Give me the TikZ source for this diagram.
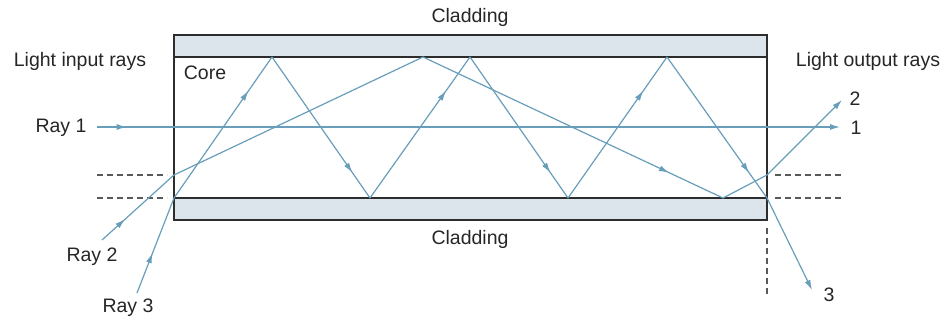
\documentclass[tikz,border=0pt]{standalone}
\usepackage{fontspec}
\setmainfont{Liberation Sans}
\usetikzlibrary{arrows.meta, decorations.markings}
\definecolor{ray_blue}{RGB}{104,158,186}
\definecolor{clad_gray}{RGB}{221,229,236}
\definecolor{wall_gray}{RGB}{45,45,45}

\begin{document}
\begin{tikzpicture}[x=1pt, y=-1pt, >={Latex[length=10pt,width=6pt]},
    every node/.style={font=\fontsize{19.5}{22}\selectfont, text=black!85, inner sep=0pt},
    ray/.style={ray_blue, line width=1.2pt},
    tipat/.style={postaction={decorate}, decoration={markings, mark=at position #1 with {\arrow{Latex[length=10pt,width=6pt]}}}},
    guide/.style={black!65, line width=1.1pt, dash pattern=on 6pt off 4pt}]
  \useasboundingbox (0,0) rectangle (950,322);

  % cladding and core
  \fill[clad_gray] (174,35) rectangle (767,57);
  \fill[clad_gray] (174,198) rectangle (767,220);
  \draw[wall_gray, line width=1.3pt] (174,35) rectangle (767,220);
  \draw[wall_gray, line width=2.2pt] (174,57) -- (767,57);
  \draw[wall_gray, line width=2.2pt] (174,198) -- (767,198);
  \draw[wall_gray, line width=2pt] (174,35) -- (174,220);

  % guide lines
  \draw[guide] (97,175) -- (167,175);
  \draw[guide] (97,198) -- (167,198);
  \draw[guide] (775,175) -- (843,175);
  \draw[guide] (775,198) -- (843,198);
  \draw[guide] (767,228) -- (767,296);

  % labels
  \node (cladtop) at (470,17) {Cladding};
  \node (cladbot) at (470,239) {Cladding};
  \node (inrays) at (80,61) {Light input rays};
  \node (outrays) at (868,61) {Light output rays};
  \node (core) at (205,73) {Core};
  \node (lab1) at (61,128) {Ray 1};
  \node (lab2) at (92,257) {Ray 2};
  \node (lab3) at (128,308) {Ray 3};
  \node (out1) at (856,128) {1};
  \node (out2) at (855,99) {2};
  \node (out3) at (829,295) {3};

  % ray points
  \coordinate (a0) at (97,127);
  \coordinate (a1) at (840,127);
  \coordinate (b0) at (102,240);
  \coordinate (b1) at (174,175);
  \coordinate (b2) at (423,57);
  \coordinate (b3) at (723,198);
  \coordinate (b4) at (767,175);
  \coordinate (b5) at (842,100);
  \coordinate (c0) at (137,293);
  \coordinate (c1) at (174,198);
  \coordinate (c2) at (272,57);
  \coordinate (c3) at (370,198);
  \coordinate (c4) at (470,57);
  \coordinate (c5) at (568,198);
  \coordinate (c6) at (667,57);
  \coordinate (c7) at (767,198);
  \coordinate (c8) at (812,290);

  % ray 1
  \draw[ray, ->, tipat=0.04] (a0) -- (a1);
  % ray 2
  \draw[ray, tipat=0.32] (b0) -- (b1);
  \draw[ray] (b1) -- (b2);
  \draw[ray, tipat=0.82] (b2) -- (b3);
  \draw[ray] (b3) -- (b4);
  \draw[ray, ->] (b4) -- (b5);
  % ray 3
  \draw[ray, tipat=0.42] (c0) -- (c1);
  \draw[ray, tipat=0.76] (c1) -- (c2);
  \draw[ray, tipat=0.82] (c2) -- (c3);
  \draw[ray, tipat=0.76] (c3) -- (c4);
  \draw[ray, tipat=0.82] (c4) -- (c5);
  \draw[ray, tipat=0.76] (c5) -- (c6);
  \draw[ray, tipat=0.82] (c6) -- (c7);
  \draw[ray, ->] (c7) -- (c8);
\end{tikzpicture}
\end{document}
